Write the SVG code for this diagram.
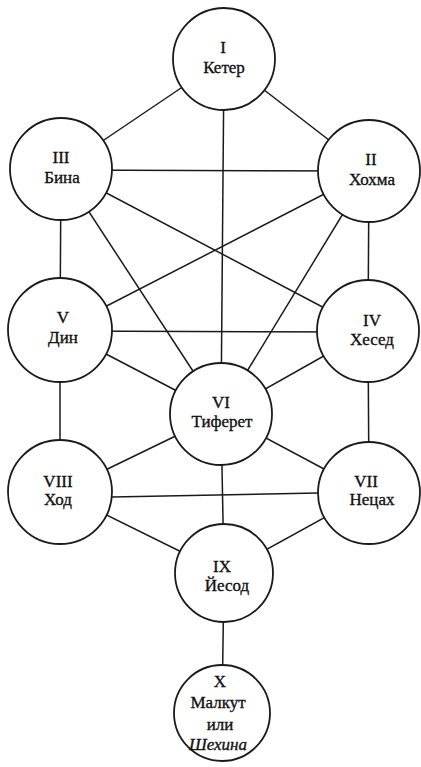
<svg xmlns="http://www.w3.org/2000/svg" width="421" height="767" viewBox="0 0 421 767">
<style>
.c{fill:#fff;stroke:#1a1a1a;stroke-width:1.8}
.l{stroke:#1a1a1a;stroke-width:1.5;fill:none}
text{font-family:"Liberation Serif","Times New Roman",serif;font-size:17px;fill:#111;stroke:#111;stroke-width:0.35;text-anchor:middle}
.i{font-style:italic}
</style>
<rect width="421" height="767" fill="#fff"/>
<g id="connectors" class="l">
<line x1="224" y1="59" x2="61" y2="169"/>
<line x1="224" y1="59" x2="369" y2="171"/>
<line x1="224" y1="59" x2="221" y2="414"/>
<line x1="61" y1="170" x2="369" y2="171"/>
<line x1="61" y1="169" x2="60" y2="330"/>
<line x1="61" y1="169" x2="221" y2="414"/>
<line x1="61" y1="169" x2="368" y2="331"/>
<line x1="369" y1="171" x2="368" y2="331"/>
<line x1="369" y1="171" x2="221" y2="414"/>
<line x1="369" y1="171" x2="60" y2="330"/>
<line x1="60" y1="331" x2="368" y2="332"/>
<line x1="60" y1="330" x2="221" y2="414"/>
<line x1="60" y1="330" x2="60" y2="492"/>
<line x1="368" y1="331" x2="221" y2="414"/>
<line x1="368" y1="331" x2="369" y2="493"/>
<line x1="221" y1="414" x2="60" y2="492"/>
<line x1="221" y1="414" x2="369" y2="493"/>
<line x1="221" y1="414" x2="224" y2="573"/>
<line x1="60" y1="498" x2="369" y2="492"/>
<line x1="60" y1="492" x2="224" y2="573"/>
<line x1="369" y1="493" x2="224" y2="573"/>
<line x1="224" y1="573" x2="222" y2="713"/>
</g>
<g id="keter"><circle class="c" cx="224" cy="59" r="51"/><text x="223" y="53">I</text><text x="224" y="73">Кетер</text></g>
<g id="bina"><circle class="c" cx="61" cy="169" r="51"/><text x="61" y="163">III</text><text x="62" y="183">Бина</text></g>
<g id="hokhma"><circle class="c" cx="369" cy="171" r="51"/><text x="371" y="165">II</text><text x="372" y="185">Хохма</text></g>
<g id="din"><circle class="c" cx="60" cy="330" r="52"/><text x="63" y="323">V</text><text x="63" y="343">Дин</text></g>
<g id="hesed"><circle class="c" cx="368" cy="331" r="51"/><text x="372" y="326">IV</text><text x="372" y="345">Хесед</text></g>
<g id="tiferet"><circle class="c" cx="221" cy="414" r="51"/><text x="221" y="408">VI</text><text x="222" y="427">Тиферет</text></g>
<g id="hod"><circle class="c" cx="60" cy="492" r="52"/><text x="58" y="487">VIII</text><text x="58" y="505">Ход</text></g>
<g id="netsah"><circle class="c" cx="369" cy="493" r="51"/><text x="366" y="487">VII</text><text x="372" y="505">Нецах</text></g>
<g id="yesod"><circle class="c" cx="224" cy="573" r="49"/><text x="222" y="572">IX</text><text x="227" y="591">Йесод</text></g>
<g id="malkut"><circle class="c" cx="222" cy="713" r="48"/><text x="220" y="687">X</text><text x="218" y="708">Малкут</text><text x="220" y="730">или</text><text class="i" x="218" y="750">Шехина</text></g>
</svg>
